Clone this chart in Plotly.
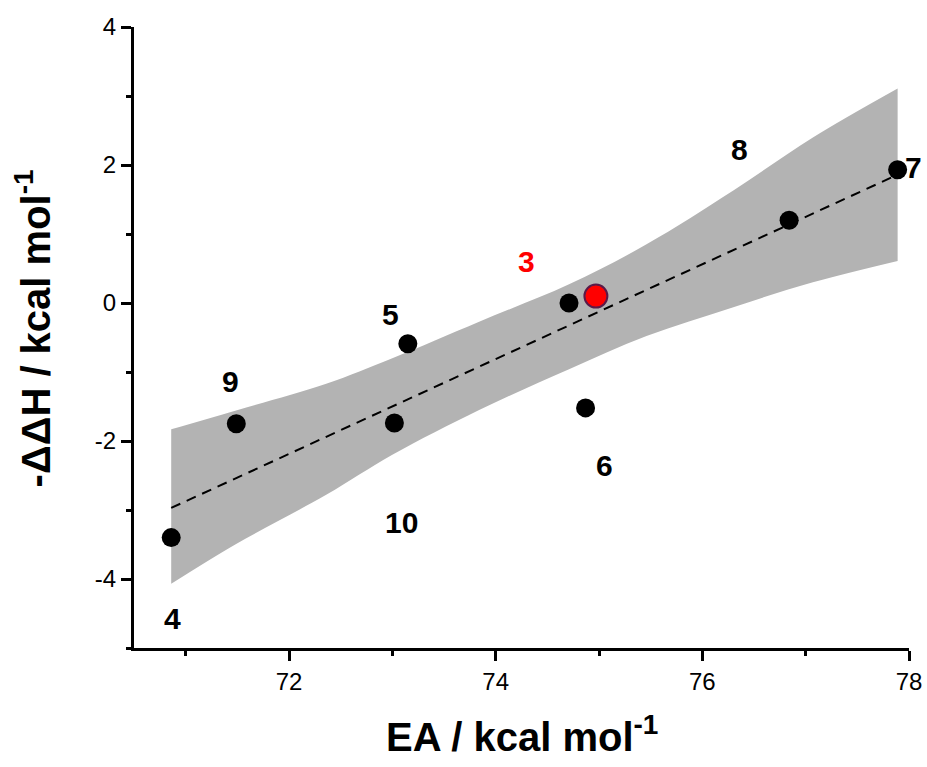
import plotly.graph_objects as go

# Data points (EA vs -ΔΔH)
ea = [70.86, 71.49, 73.02, 73.15, 74.71, 74.87, 76.84, 77.89]
ddh = [-3.40, -1.75, -1.74, -0.59, 0.00, -1.52, 1.20, 1.93]
red_ea = [74.97]
red_ddh = [0.10]

# Compound labels and their positions (label "7" sits just past the axis end)
labels = ["4", "9", "10", "5", "3", "6", "8", "7"]
label_x = [70.876, 71.43, 73.09, 72.98, 74.30, 75.05, 76.36, 78.0]
label_y = [-4.57, -1.14, -3.18, -0.17, 0.60, -2.36, 2.23, 1.97]
label_xshift = [0, 0, 0, 0, 0, 0, 0, 4]
label_colors = ["black", "black", "black", "black", "#ff0000", "black", "black", "black"]

# Linear fit line
fit_x = [70.86, 77.89]
fit_y = [-2.97, 1.86]

# Confidence band
band_x = [70.86, 71.48, 72.36, 73.00, 73.84, 74.71, 75.46, 76.30, 77.07, 77.89]
band_upper = [-1.83, -1.56, -1.17, -0.80, -0.27, 0.27, 0.85, 1.63, 2.40, 3.11]
band_lower = [-4.07, -3.50, -2.78, -2.20, -1.55, -0.96, -0.48, -0.06, 0.30, 0.61]

x_ticks = [72, 74, 76, 78]
y_ticks = [-4, -2, 0, 2, 4]
y_tick_text = ["-4", "-2", "0", "2", "4"]

FONT = "Liberation Sans, Arial, sans-serif"

fig = go.Figure()

fig.add_trace(go.Scatter(
    x=band_x, y=band_lower, mode="lines",
    line=dict(width=0, shape="spline", color="#b3b3b3"),
    hoverinfo="skip", showlegend=False,
))
fig.add_trace(go.Scatter(
    x=band_x, y=band_upper, mode="lines", fill="tonexty", fillcolor="#b3b3b3",
    line=dict(width=0, shape="spline", color="#b3b3b3"),
    hoverinfo="skip", showlegend=False,
))

fig.add_trace(go.Scatter(
    x=fit_x, y=fit_y, mode="lines",
    line=dict(color="black", width=2, dash="10px,7px"), showlegend=False,
))

fig.add_trace(go.Scatter(
    x=ea, y=ddh, mode="markers",
    marker=dict(color="black", size=19, line=dict(width=0)),
    showlegend=False, cliponaxis=False,
))

fig.add_trace(go.Scatter(
    x=red_ea, y=red_ddh, mode="markers",
    marker=dict(color="#ff0000", size=23, line=dict(width=2, color="#5a1a48")),
    showlegend=False, cliponaxis=False,
))

for t, lx, ly, xs, c in zip(labels, label_x, label_y, label_xshift, label_colors):
    fig.add_annotation(
        x=lx, y=ly, text=t, showarrow=False, xshift=xs,
        font=dict(family=FONT, size=30, color=c, weight="bold"),
        xanchor="center", yanchor="middle",
    )

# Axis titles
fig.add_annotation(
    xref="paper", yref="paper", x=0.5, y=-0.138,
    text="EA / kcal mol<sup>-1</sup>", showarrow=False,
    font=dict(family=FONT, size=40, color="black", weight="bold"),
    xanchor="center", yanchor="middle",
)
fig.add_annotation(
    xref="paper", yref="paper", x=-0.13, y=0.515,
    text="-ΔΔH / kcal mol<sup>-1</sup>", showarrow=False, textangle=-90,
    font=dict(family=FONT, size=40, color="black", weight="bold"),
    xanchor="center", yanchor="middle",
)

axis_common = dict(
    showgrid=False, zeroline=False, showline=True, linecolor="black", linewidth=3,
    ticks="outside", ticklen=10, tickwidth=3, tickcolor="black",
    tickfont=dict(family=FONT, size=24, color="black"),
    mirror=False, automargin=False,
)

fig.update_xaxes(
    range=[70.5, 78], tickvals=x_ticks,
    minor=dict(dtick=1, tick0=71, ticks="outside", ticklen=5, tickwidth=3, tickcolor="black"),
    **axis_common,
)
fig.update_yaxes(
    range=[-5, 4], tickvals=y_ticks, ticktext=y_tick_text,
    minor=dict(dtick=1, tick0=-5, ticks="outside", ticklen=5, tickwidth=3, tickcolor="black"),
    **axis_common,
)

fig.update_layout(
    width=927, height=767,
    margin=dict(l=134, r=18, t=27, b=119),
    plot_bgcolor="white", paper_bgcolor="white",
    showlegend=False,
)

# Remove the default page margin so the figure fills the window exactly
fig.write_html(
    "out.html",
    config={"displayModeBar": False},
    post_script="document.body.style.margin='0';document.body.style.overflow='hidden';",
)
